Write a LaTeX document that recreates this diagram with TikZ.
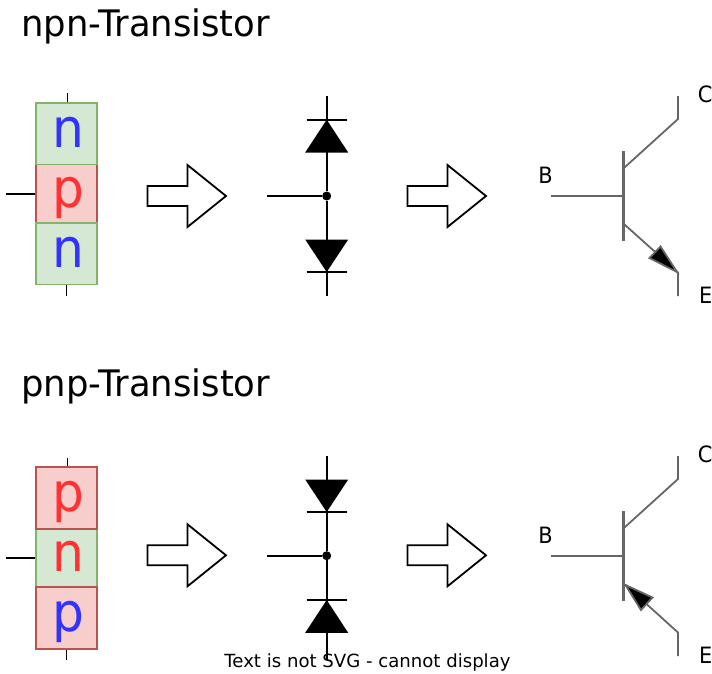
\documentclass[tikz,border=0pt]{standalone}
\usepackage{fontspec}
\setmainfont{DejaVu Sans}
\newfontfamily\narrowfont{DejaVu Sans}[FakeStretch=0.93]
\newfontfamily\titlefont{DejaVu Sans}[FakeStretch=0.97]
\definecolor{ngreen}{HTML}{D5E8D4}
\definecolor{ngreenline}{HTML}{82B366}
\definecolor{pred}{HTML}{F8CECC}
\definecolor{predline}{HTML}{B85450}
\definecolor{lblue}{HTML}{3333FF}
\definecolor{lred}{HTML}{FF3333}
\definecolor{tgray}{HTML}{666666}
\tikzset{
layer/.style={draw,line width=1.8pt,minimum width=61.5pt,minimum height=61.5pt,inner sep=0pt,text height=27pt,text depth=0pt,font=\narrowfont\fontsize{54}{54}\selectfont},
nlayer/.style={layer,fill=ngreen,draw=ngreenline},
player/.style={layer,fill=pred,draw=predline},
wire/.style={line width=1.8pt},
twire/.style={line width=1.8pt,draw=tgray},
tbar/.style={line width=3.4pt,draw=tgray},
thead/.style={fill=black,draw=tgray,line width=1.8pt,line join=miter},
blockarrow/.style={line width=1.8pt,fill=white,line join=miter},
title/.style={anchor=base west,inner sep=0pt,font=\titlefont\fontsize{36.5}{36.5}\selectfont},
pin/.style={anchor=base,inner sep=0pt,font=\narrowfont\fontsize{22.5}{22.5}\selectfont},
notetext/.style={anchor=base,inner sep=0pt,font=\fontsize{18.1}{18.1}\selectfont},
}
\newcommand{\hollowarrow}[2]{\draw[blockarrow,shift={(#1,#2)}] (0,-10) -- (40,-10) -- (40,-31) -- (78.5,0) -- (40,31) -- (40,10) -- (0,10) -- cycle;}
\begin{document}
\begin{tikzpicture}[x=1pt,y=-1pt]
\useasboundingbox (0,0) rectangle (712,673);
\node[title] (titlenpn) at (21,36) {npn-Transistor};
\node[title] (titlepnp) at (21,396) {pnp-Transistor};
% npn blocks
\node[player,text=lred] (npnB) at (66.5,193.8) {\hspace*{3pt}p};
\node[nlayer,text=lblue] (npnC) at (66.5,133.8) {\hspace*{3pt}n};
\node[nlayer,text=lblue] (npnE) at (66.5,253.8) {\hspace*{3pt}n};
\coordinate (npnCtick) at (67.5,93);
\coordinate (npnEtick) at (66.5,296);
\coordinate (npnBtick) at (6,194);
\draw[wire] (npnCtick) -- (npnCtick |- npnC.north);
\draw[wire] (npnEtick) -- (npnEtick |- npnE.south);
\draw[wire] (npnBtick) -- (npnBtick -| npnB.west);
\hollowarrow{147.5}{196}
% npn diodes
\node[circle,fill=black,inner sep=0pt,minimum size=9pt] (npnjoin) at (326.7,196) {};
\coordinate (npnDtop) at (326.7,96);
\coordinate (npnDbot) at (326.7,296);
\coordinate (npnDleft) at (266.5,196);
\draw[wire] (npnDtop) -- (npnjoin);
\draw[wire] (npnjoin) -- (npnDbot);
\draw[wire] (npnDleft) -- (npnjoin);
\draw[wire] (306.7,119.7) -- (346.7,119.7);
\fill (326.7,119.7) -- (348.2,152.5) -- (305.2,152.5) -- cycle;
\fill (326.7,272) -- (348.2,239.5) -- (305.2,239.5) -- cycle;
\draw[wire] (306.7,272) -- (346.7,272);
\hollowarrow{407.5}{196}
% npn transistor
\node[pin] (npnBl) at (545.5,183.5) {B};
\node[pin] (npnCl) at (705.2,102.5) {C};
\node[pin] (npnEl) at (705.8,303) {E};
\coordinate (npnTb) at (551,196);
\coordinate (npnTj) at (623.5,196);
\draw[twire] (npnTb) -- (npnTj);
\draw[tbar] (623.5,151) -- (623.5,241);
\draw[twire] (624.5,167.5) -- (678,119) -- (678,96);
\draw[twire] (624.5,224.5) -- (678,272.5) -- (678,296);
\draw[thead] (677,272) -- (649.5,258) -- (660.5,246.5) -- cycle;
% pnp blocks
\node[nlayer,text=lred] (pnpB) at (66.5,558) {\hspace*{3pt}n};
\node[player,text=lred] (pnpC) at (66.5,498) {\hspace*{3pt}p};
\node[player,text=lblue] (pnpE) at (66.5,618) {\hspace*{3pt}p};
\coordinate (pnpCtick) at (67.5,458);
\coordinate (pnpEtick) at (66.5,660);
\coordinate (pnpBtick) at (6,558);
\draw[wire] (pnpCtick) -- (pnpCtick |- pnpC.north);
\draw[wire] (pnpEtick) -- (pnpEtick |- pnpE.south);
\draw[wire] (pnpBtick) -- (pnpBtick -| pnpB.west);
\hollowarrow{147.5}{555.3}
% pnp diodes
\node[circle,fill=black,inner sep=0pt,minimum size=9pt] (pnpjoin) at (326.7,555.7) {};
\coordinate (pnpDtop) at (326.7,456);
\coordinate (pnpDbot) at (326.7,660);
\coordinate (pnpDleft) at (266.5,555.7);
\draw[wire] (pnpDtop) -- (pnpjoin);
\draw[wire] (pnpjoin) -- (pnpDbot);
\draw[wire] (pnpDleft) -- (pnpjoin);
\fill (326.7,512) -- (348.2,479.5) -- (305.2,479.5) -- cycle;
\draw[wire] (306.7,512) -- (346.7,512);
\draw[wire] (306.7,600) -- (346.7,600);
\fill (326.7,600) -- (348.2,632.8) -- (305.2,632.8) -- cycle;
\hollowarrow{407.5}{555.3}
% pnp transistor
\node[pin] (pnpBl) at (545.5,543.5) {B};
\node[pin] (pnpCl) at (705.2,462.5) {C};
\node[pin] (pnpEl) at (705.8,663) {E};
\coordinate (pnpTb) at (551,556);
\coordinate (pnpTj) at (623.5,556);
\draw[twire] (pnpTb) -- (pnpTj);
\draw[tbar] (623.5,511) -- (623.5,601);
\draw[twire] (624.5,527.5) -- (678,479) -- (678,456);
\draw[twire] (625.5,585) -- (678,632.5) -- (678,656);
\draw[thead] (625.5,585) -- (652.5,597.5) -- (641,610) -- cycle;
\node[notetext] (notsvg) at (367.5,667.5) {Text is not SVG - cannot display};
\end{tikzpicture}
\end{document}
